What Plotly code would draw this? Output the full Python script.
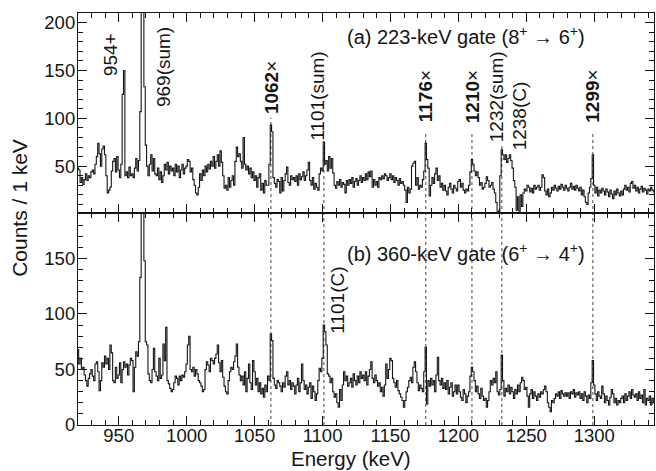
import plotly.graph_objects as go

# Energy bins (1 keV each), bin centres
energy = list(range(920, 1345))

# (a) 223-keV gate spectrum, counts per 1 keV, 920..1344 keV
counts_a = [
    48, 46, 33, 38, 31, 36, 42, 35, 40, 38,
    44, 46, 42, 52, 60, 74, 63, 50, 68, 71,
    62, 40, 22, 25, 28, 45, 55, 58, 44, 60,
    46, 38, 52, 125, 150, 40, 44, 38, 49, 40,
    42, 38, 48, 58, 45, 56, 107, 420, 380, 133,
    72, 50, 40, 52, 62, 45, 58, 42, 40, 48,
    36, 44, 33, 40, 52, 46, 54, 42, 50, 45,
    48, 40, 52, 44, 50, 38, 46, 52, 42, 48,
    50, 57, 55, 44, 48, 36, 30, 22, 20, 28,
    42, 35, 46, 40, 50, 44, 52, 47, 55, 50,
    60, 48, 55, 62, 50, 66, 54, 40, 27, 30,
    25, 38, 28, 35, 40, 30, 55, 70, 60, 63,
    55, 48, 80, 52, 46, 50, 42, 48, 38, 44,
    35, 40, 28, 38, 42, 25, 32, 22, 35, 30,
    30, 52, 93, 86, 38, 32, 28, 36, 34, 22,
    38, 24, 35, 42, 49, 33, 30, 40, 36, 38,
    34, 40, 30, 42, 36, 39, 44, 35, 40, 46,
    54, 35, 30, 38, 26, 32, 28, 25, 42, 48,
    45, 75, 52, 56, 45, 60, 48, 58, 43, 30,
    27, 34, 30, 36, 28, 33, 31, 22, 35, 30,
    36, 32, 38, 28, 34, 37, 30, 35, 40, 33,
    38, 35, 42, 36, 44, 39, 45, 28, 36, 30,
    34, 28, 38, 36, 40, 37, 42, 40, 35, 38,
    42, 36, 40, 33, 38, 35, 30, 37, 32, 34,
    30, 25, 12, 28, 22, 26, 50, 53, 55, 30,
    38, 26, 30, 28, 36, 45, 74, 57, 48, 19,
    30, 38, 32, 42, 48, 35, 40, 28, 32, 25,
    30, 24, 20, 28, 32, 26, 22, 30, 27, 24,
    34, 36, 28, 32, 25, 22, 26, 24, 30, 44,
    57, 52, 45, 40, 44, 38, 30, 33, 26, 28,
    32, 39, 35, 28, 30, 33, 26, 22, 12, 3,
    2, 40, 67, 62, 57, 62, 54, 58, 62, 56,
    48, 35, 28, 4, 18, 3, 20, 8, 22, 26,
    24, 30, 28, 23, 27, 22, 30, 26, 28, 30,
    25, 28, 41, 38, 24, 20, 26, 18, 22, 28,
    25, 30, 27, 24, 29, 26, 31, 28, 25, 30,
    27, 24, 28, 32, 26, 29, 25, 30, 27, 24,
    28, 20, 25, 18, 12, 10, 22, 28, 37, 62,
    30, 22, 28, 19, 25, 22, 27, 24, 20, 26,
    23, 18, 25, 21, 16, 24, 20, 26, 22, 19,
    24, 20, 26, 30, 25, 28, 23, 32, 34, 27,
    30, 24, 28, 22, 26, 29, 23, 27, 25, 21,
    26, 24, 28, 25, 23,
]

# (b) 360-keV gate spectrum, counts per 1 keV, 920..1344 keV
counts_b = [
    68, 55, 60, 50, 52, 45, 40, 35, 42, 46,
    50, 44, 40, 55, 57, 48, 31, 40, 56, 52,
    62, 55, 60, 50, 72, 65, 40, 38, 52, 42,
    45, 56, 38, 50, 57, 52, 55, 45, 54, 60,
    58, 30, 52, 66, 62, 75, 133, 420, 400, 148,
    75, 72, 46, 40, 38, 50, 69, 48, 44, 40,
    60, 42, 45, 73, 58, 88, 40, 37, 33, 30,
    32, 38, 44, 42, 36, 44, 40, 45, 43, 48,
    55, 72, 80, 50, 48, 52, 44, 50, 46, 40,
    38, 35, 30, 32, 50, 57, 54, 48, 60, 58,
    55, 60, 64, 72, 56, 48, 58, 43, 35, 30,
    28, 40, 48, 52, 50, 57, 62, 73, 52, 45,
    40, 44, 36, 48, 30, 42, 55, 38, 32, 58,
    48, 36, 42, 30, 38, 28, 33, 25, 36, 30,
    44, 40, 82, 76, 42, 36, 33, 40, 38, 35,
    30, 38, 34, 44, 48, 36, 40, 32, 38, 35,
    28, 36, 42, 30, 38, 55, 40, 32, 36, 28,
    34, 38, 24, 35, 30, 22, 28, 40, 51, 48,
    60, 90, 84, 72, 46, 44, 38, 42, 30, 25,
    28, 20, 16, 32, 22, 36, 48, 40, 44, 35,
    38, 42, 34, 46, 40, 36, 44, 38, 48, 42,
    45, 40, 48, 36, 44, 50, 57, 42, 38, 45,
    40, 35, 38, 30, 34, 26, 36, 55, 42, 50,
    60, 58, 42, 38, 34, 40, 31, 28, 25, 22,
    16, 22, 30, 34, 40, 43, 38, 52, 57, 48,
    38, 31, 36, 33, 30, 48, 70, 19, 40, 35,
    42, 36, 40, 30, 45, 61, 40, 36, 42, 33,
    38, 32, 40, 28, 34, 38, 26, 30, 36, 28,
    36, 30, 25, 22, 32, 28, 20, 26, 30, 44,
    52, 48, 40, 30, 35, 28, 24, 33, 26, 22,
    24, 16, 22, 30, 40, 36, 42, 38, 48, 30,
    27, 32, 63, 40, 26, 33, 30, 36, 28, 34,
    30, 24, 32, 28, 36, 30, 38, 43, 40, 32,
    34, 26, 16, 28, 32, 24, 30, 26, 22, 28,
    25, 30, 28, 32, 35, 30, 20, 16, 12, 22,
    20, 24, 28, 26, 30, 24, 31, 28, 26, 29,
    26, 29, 24, 30, 28, 32, 25, 29, 27, 30,
    24, 28, 22, 30, 26, 20, 27, 24, 38, 58,
    36, 28, 22, 30, 26, 24, 35, 28, 20, 26,
    22, 18, 25, 32, 28, 20, 24, 18, 22, 20,
    24, 26, 20, 28, 22, 26, 30, 24, 32, 27,
    25, 28, 22, 30, 24, 27, 20, 32, 18, 24,
    22, 26, 18, 24, 20,
]

# Gamma lines marked with dotted guides
marked_lines = [1062, 1101, 1176, 1210, 1232, 1299]

# Peak labels in panel (a): (text, energy, counts position)
labels_a = [
    ("954+", 943.6, 166),
    ("969(sum)", 982.9, 154),
    ("<b>1062</b>×", 1062.4, 132),
    ("1101(sum)", 1096.3, 123),
    ("<b>1176</b>×", 1175.4, 123),
    ("<b>1210</b>×", 1210.0, 123),
    ("1232(sum)", 1227.7, 122),
    ("1238(C)", 1245.3, 103),
    ("<b>1299</b>×", 1298.7, 123),
]
labels_b = [("1101(C)", 1111.4, 112)]

FONT = "Liberation Sans, Arial, Helvetica, sans-serif"
INK = "#151515"

# histogram edges (bins centred on integer energies)
edges = [e - 0.5 for e in energy] + [energy[-1] + 0.5]
ya = counts_a + [counts_a[-1]]
yb = counts_b + [counts_b[-1]]

fig = go.Figure()
fig.add_trace(go.Scatter(x=edges, y=ya, mode="lines", xaxis="x2", yaxis="y2",
                         line=dict(shape="hv", color=INK, width=1.1), showlegend=False,
                         hoverinfo="skip"))
fig.add_trace(go.Scatter(x=edges, y=yb, mode="lines", xaxis="x", yaxis="y",
                         line=dict(shape="hv", color=INK, width=1.1), showlegend=False,
                         hoverinfo="skip"))

split = 0.5139
x_common = dict(range=[920, 1344], tickmode="linear", tick0=900, dtick=50,
                ticks="inside", ticklen=9, tickwidth=1, tickcolor=INK,
                minor=dict(ticks="inside", dtick=10, tick0=900, ticklen=5, tickcolor=INK),
                showline=True, linecolor=INK, linewidth=1.2, mirror="allticks",
                showgrid=False, zeroline=False, ticklabelstandoff=-6,
                tickfont=dict(family=FONT, size=18.5, color=INK))
y_common = dict(tickmode="linear", tick0=0, dtick=50,
                ticks="inside", ticklen=9, tickwidth=1, tickcolor=INK,
                minor=dict(ticks="inside", dtick=10, tick0=0, ticklen=5, tickcolor=INK),
                showline=True, linecolor=INK, linewidth=1.2, mirror="allticks",
                showgrid=False, zeroline=False, ticklabelstandoff=-2,
                tickfont=dict(family=FONT, size=18.5, color=INK))

fig.update_layout(
    width=656, height=471,
    margin=dict(l=78, r=2, t=13, b=46),
    paper_bgcolor="white", plot_bgcolor="white",
    xaxis=dict(domain=[0, 1], anchor="y", **x_common),
    xaxis2=dict(domain=[0, 1], anchor="y2", showticklabels=False, **x_common),
    yaxis=dict(domain=[0, split], anchor="x", range=[0, 190.7], **y_common),
    yaxis2=dict(domain=[split, 1], anchor="x2", range=[0.8, 210], **y_common),
    font=dict(family=FONT, color=INK),
)

shape_tops = {1062: 0.7455, 1101: 0.6896, 1176: 0.709, 1210: 0.709, 1232: 0.6847, 1299: 0.709}
for e in marked_lines:
    fig.add_shape(type="line", xref="x", yref="paper", x0=e, x1=e, y0=0, y1=shape_tops[e],
                  line=dict(color="#444", width=1, dash="dot"), layer="below")

anns = []
for txt, xe, yv in labels_a:
    anns.append(dict(text=txt, x=xe, y=yv, xref="x2", yref="y2", textangle=-90,
                     showarrow=False, xanchor="center", yanchor="middle",
                     font=dict(family=FONT, size=19, color=INK)))
for txt, xe, yv in labels_b:
    anns.append(dict(text=txt, x=xe, y=yv, xref="x", yref="y", textangle=-90,
                     showarrow=False, xanchor="center", yanchor="middle",
                     font=dict(family=FONT, size=19, color=INK)))
anns.append(dict(text="(a) 223-keV gate (8<sup>+</sup> \u2192 6<sup>+</sup>)", x=1205.6, y=186,
                 xref="x2", yref="y2", showarrow=False, xanchor="center", yanchor="middle",
                 font=dict(family=FONT, size=20, color=INK)))
anns.append(dict(text="(b) 360-keV gate (6<sup>+</sup> \u2192 4<sup>+</sup>)", x=1205.6, y=155.7,
                 xref="x", yref="y", showarrow=False, xanchor="center", yanchor="middle",
                 font=dict(family=FONT, size=20, color=INK)))
anns.append(dict(text="Energy (keV)", x=0.474, y=-0.081, xref="paper", yref="paper",
                 showarrow=False, xanchor="center", yanchor="middle",
                 font=dict(family=FONT, size=20.5, color=INK)))
anns.append(dict(text="Counts / 1 keV", x=-0.1007, y=0.527, xref="paper", yref="paper",
                 textangle=-90, showarrow=False, xanchor="center", yanchor="middle",
                 font=dict(family=FONT, size=21, color=INK)))
fig.update_layout(annotations=anns)

fig.write_html("out.html", config={"displayModeBar": False},
               post_script="document.body.style.margin='0';document.body.style.overflow='hidden';")
